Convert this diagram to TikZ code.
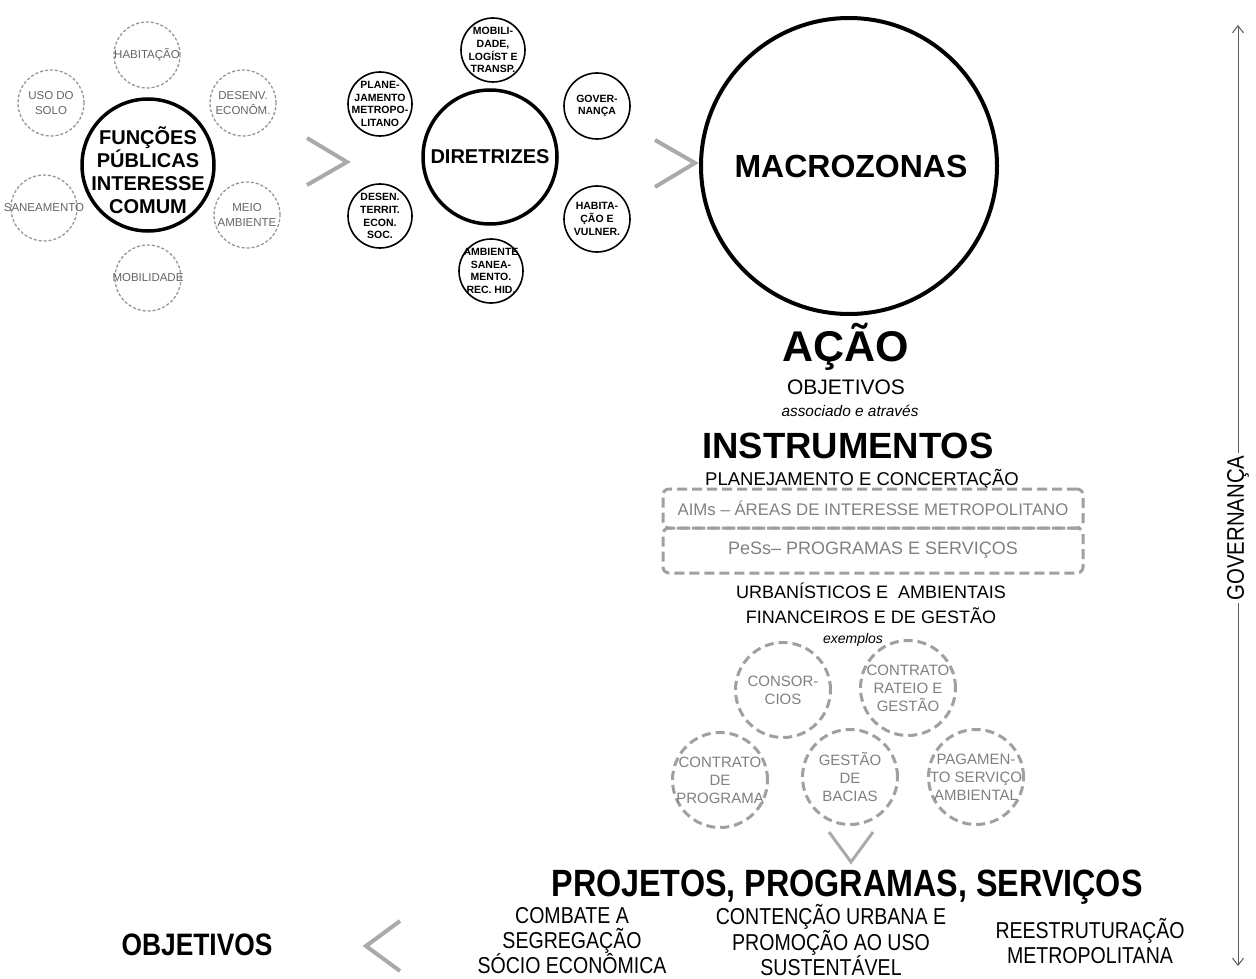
\documentclass[tikz,border=0pt]{standalone}
\usepackage{fontspec}
\setmainfont{Liberation Sans}
\newfontfamily\narrowfont[FakeStretch=0.85]{Liberation Sans}
\usetikzlibrary{arrows.meta}
\definecolor{chev}{RGB}{170,170,170}
\definecolor{dgray}{RGB}{160,160,160}
\definecolor{dtext}{RGB}{128,128,128}
\definecolor{lgray}{RGB}{150,150,150}
\definecolor{ltext}{RGB}{100,100,100}
\definecolor{gline}{RGB}{90,90,90}
\tikzset{
  fpic/.style={circle,draw=lgray,line width=1.3pt,dash pattern=on 3pt off 2pt,minimum size=66pt,inner sep=0pt},
  ftext/.style={inner sep=0pt,align=center,text=ltext,font=\fontsize{11.5}{15}\selectfont},
  bigc/.style={circle,draw,line width=3.5pt,inner sep=0pt},
  bigtext/.style={inner sep=0pt,align=center,font=\bfseries\fontsize{20}{23}\selectfont},
  diric/.style={circle,draw,line width=1.6pt,minimum size=64pt,inner sep=0pt},
  dirtext/.style={inner sep=0pt,align=center,font=\bfseries\fontsize{10.5}{12.8}\selectfont},
  instc/.style={circle,draw=dgray,line width=3pt,dash pattern=on 9pt off 5pt,minimum size=95pt,inner sep=0pt},
  insttext/.style={inner sep=0pt,align=center,text=dtext,font=\fontsize{15}{18}\selectfont},
  chevron/.style={draw=chev,line width=4pt},
  ibox/.style={draw=dgray,line width=3pt,dash pattern=on 10pt off 5pt,rounded corners=6pt,minimum width=420pt,inner sep=0pt,text=dtext},
  coltext/.style={inner sep=0pt,anchor=base},
  bottext/.style={inner sep=0pt,align=center,font=\narrowfont\fontsize{23}{25}\selectfont},
}
\begin{document}
\begin{tikzpicture}[x=1pt,y=-1pt]
\useasboundingbox (0,0) rectangle (1256,979);

% ---------- left cluster ----------
\node[bigc,minimum size=132pt] (fpc) at (148,165) {};
\node[bigtext] (fpct) at (148,170) {FUNÇÕES\\PÚBLICAS\\INTERESSE\\COMUM};
\node[fpic] (hab) at (147,55) {};
\node[ftext] (habt) at (hab) {HABITAÇÃO};
\node[fpic] (des) at (243,103) {};
\node[ftext] (dest) at (des) {DESENV.\\ECONÔM.};
\node[fpic] (meio) at (247,215) {};
\node[ftext] (meiot) at (meio) {MEIO\\AMBIENTE};
\node[fpic] (mob) at (148,278) {};
\node[ftext] (mobt) at (mob) {MOBILIDADE};
\node[fpic] (san) at (44,208) {};
\node[ftext] (sant) at (san) {SANEAMENTO};
\node[fpic] (uso) at (51,103) {};
\node[ftext] (usot) at (uso) {USO DO\\SOLO};

% chevron 1
\coordinate (c1a) at (307,138);
\coordinate (c1b) at (347,162);
\coordinate (c1c) at (307,185);
\draw[chevron] (c1a) -- (c1b) -- (c1c);

% ---------- middle cluster ----------
\node[bigc,minimum size=134pt] (dir) at (490,157) {};
\node[bigtext] (dirt) at (dir) {DIRETRIZES};
\node[diric] (d1) at (493,50) {};
\node[dirtext] (d1t) at (d1) {MOBILI-\\DADE,\\LOGÍST E\\TRANSP.};
\node[diric] (d2) at (380,104) {};
\node[dirtext] (d2t) at (d2) {PLANE-\\JAMENTO\\METROPO-\\LITANO};
\node[diric] (d3) at (380,216) {};
\node[dirtext] (d3t) at (d3) {DESEN.\\TERRIT.\\ECON.\\SOC.};
\node[diric] (d4) at (491,271) {};
\node[dirtext] (d4t) at (d4) {AMBIENTE\\SANEA-\\MENTO.\\REC. HID.};
\node[diric,minimum size=66pt] (d5) at (597,106) {};
\node[dirtext] (d5t) at (d5) {GOVER-\\NANÇA};
\node[diric,minimum size=66pt] (d6) at (597,219) {};
\node[dirtext] (d6t) at (d6) {HABITA-\\ÇÃO E\\VULNER.};

% chevron 2
\coordinate (c2a) at (655,140);
\coordinate (c2b) at (695,163);
\coordinate (c2c) at (655,187);
\draw[chevron] (c2a) -- (c2b) -- (c2c);

% ---------- macrozonas ----------
\node[circle,draw,line width=4pt,minimum size=296pt,inner sep=0pt] (mz) at (849,166) {};
\node[inner sep=0pt,font=\bfseries\fontsize{32}{32}\selectfont] (mzt) at (851,166) {MACROZONAS};

% ---------- column ----------
\node[coltext,font=\bfseries\fontsize{43}{43}\selectfont] (acao) at (846,361) {AÇÃO};
\node[coltext,font=\fontsize{21}{21}\selectfont] (obj1) at (846,394) {OBJETIVOS};
\node[coltext,font=\itshape\fontsize{15.4}{15.4}\selectfont] (assoc) at (850,416) {associado e através};
\node[coltext,font=\bfseries\fontsize{36.5}{36.5}\selectfont] (instr) at (848,458) {INSTRUMENTOS};
\node[coltext,font=\fontsize{18.5}{18.5}\selectfont] (plan) at (862,485) {PLANEJAMENTO E CONCERTAÇÃO};
\node[ibox,minimum height=39pt,font=\fontsize{16.8}{18}\selectfont] (aim) at (873,508.5) {AIMs – ÁREAS DE INTERESSE METROPOLITANO};
\node[ibox,minimum height=45pt,font=\fontsize{18}{18}\selectfont] (pess) at (873,550.5) {PeSs– PROGRAMAS E SERVIÇOS};
\node[coltext,font=\fontsize{18}{18}\selectfont] (urb) at (871,598) {URBANÍSTICOS E\ \ AMBIENTAIS};
\node[coltext,font=\fontsize{18}{18}\selectfont] (fin) at (871,623) {FINANCEIROS E DE GESTÃO};
\node[coltext,font=\itshape\fontsize{14}{14}\selectfont] (ex) at (853,643) {exemplos};

\node[instc] (i1) at (783,690) {};
\node[insttext] (i1t) at (i1) {CONSOR-\\CIOS};
\node[instc] (i2) at (908,688) {};
\node[insttext] (i2t) at (i2) {CONTRATO\\RATEIO E\\GESTÃO};
\node[instc] (i3) at (720,780) {};
\node[insttext] (i3t) at (i3) {CONTRATO\\DE\\PROGRAMA};
\node[instc] (i4) at (850,777) {};
\node[insttext] (i4t) at (i4) {GESTÃO\\DE\\BACIAS};
\node[instc] (i5) at (976,777) {};
\node[insttext] (i5t) at (i5) {PAGAMEN-\\TO SERVIÇO\\AMBIENTAL};

% down chevron
\coordinate (v1) at (829,832);
\coordinate (v2) at (851,862);
\coordinate (v3) at (873,832);
\draw[draw=chev,line width=3pt] (v1) -- (v2) -- (v3);

% ---------- bottom ----------
\node[coltext,font=\narrowfont\bfseries\fontsize{38}{38}\selectfont] (proj) at (847,896) {PROJETOS, PROGRAMAS, SERVIÇOS};
\node[bottext] (b1) at (572,941) {COMBATE A\\SEGREGAÇÃO\\SÓCIO ECONÔMICA};
\node[bottext] (b2) at (831,940) {CONTENÇÃO URBANA E\\PROMOÇÃO AO USO\\SUSTENTÁVEL};
\node[bottext] (b3) at (1090,941) {REESTRUTURAÇÃO\\METROPOLITANA};
\node[inner sep=0pt,font=\narrowfont\bfseries\fontsize{31}{31}\selectfont] (obj2) at (197,945) {OBJETIVOS};

\coordinate (l1) at (400,921);
\coordinate (l2) at (366,946);
\coordinate (l3) at (400,971);
\draw[chevron] (l1) -- (l2) -- (l3);

% ---------- governanca ----------
\coordinate (gt) at (1238,25);
\coordinate (gb) at (1238,966);
\draw[gline,line width=1pt,{Straight Barb[length=7pt,width=11pt]}-{Straight Barb[length=7pt,width=11pt]}] (gt) -- (gb);
\node[fill=white,inner sep=2pt,rotate=90,font=\narrowfont\fontsize{24}{24}\selectfont] (gov) at (1238,528) {GOVERNANÇA};
\end{tikzpicture}
\end{document}
